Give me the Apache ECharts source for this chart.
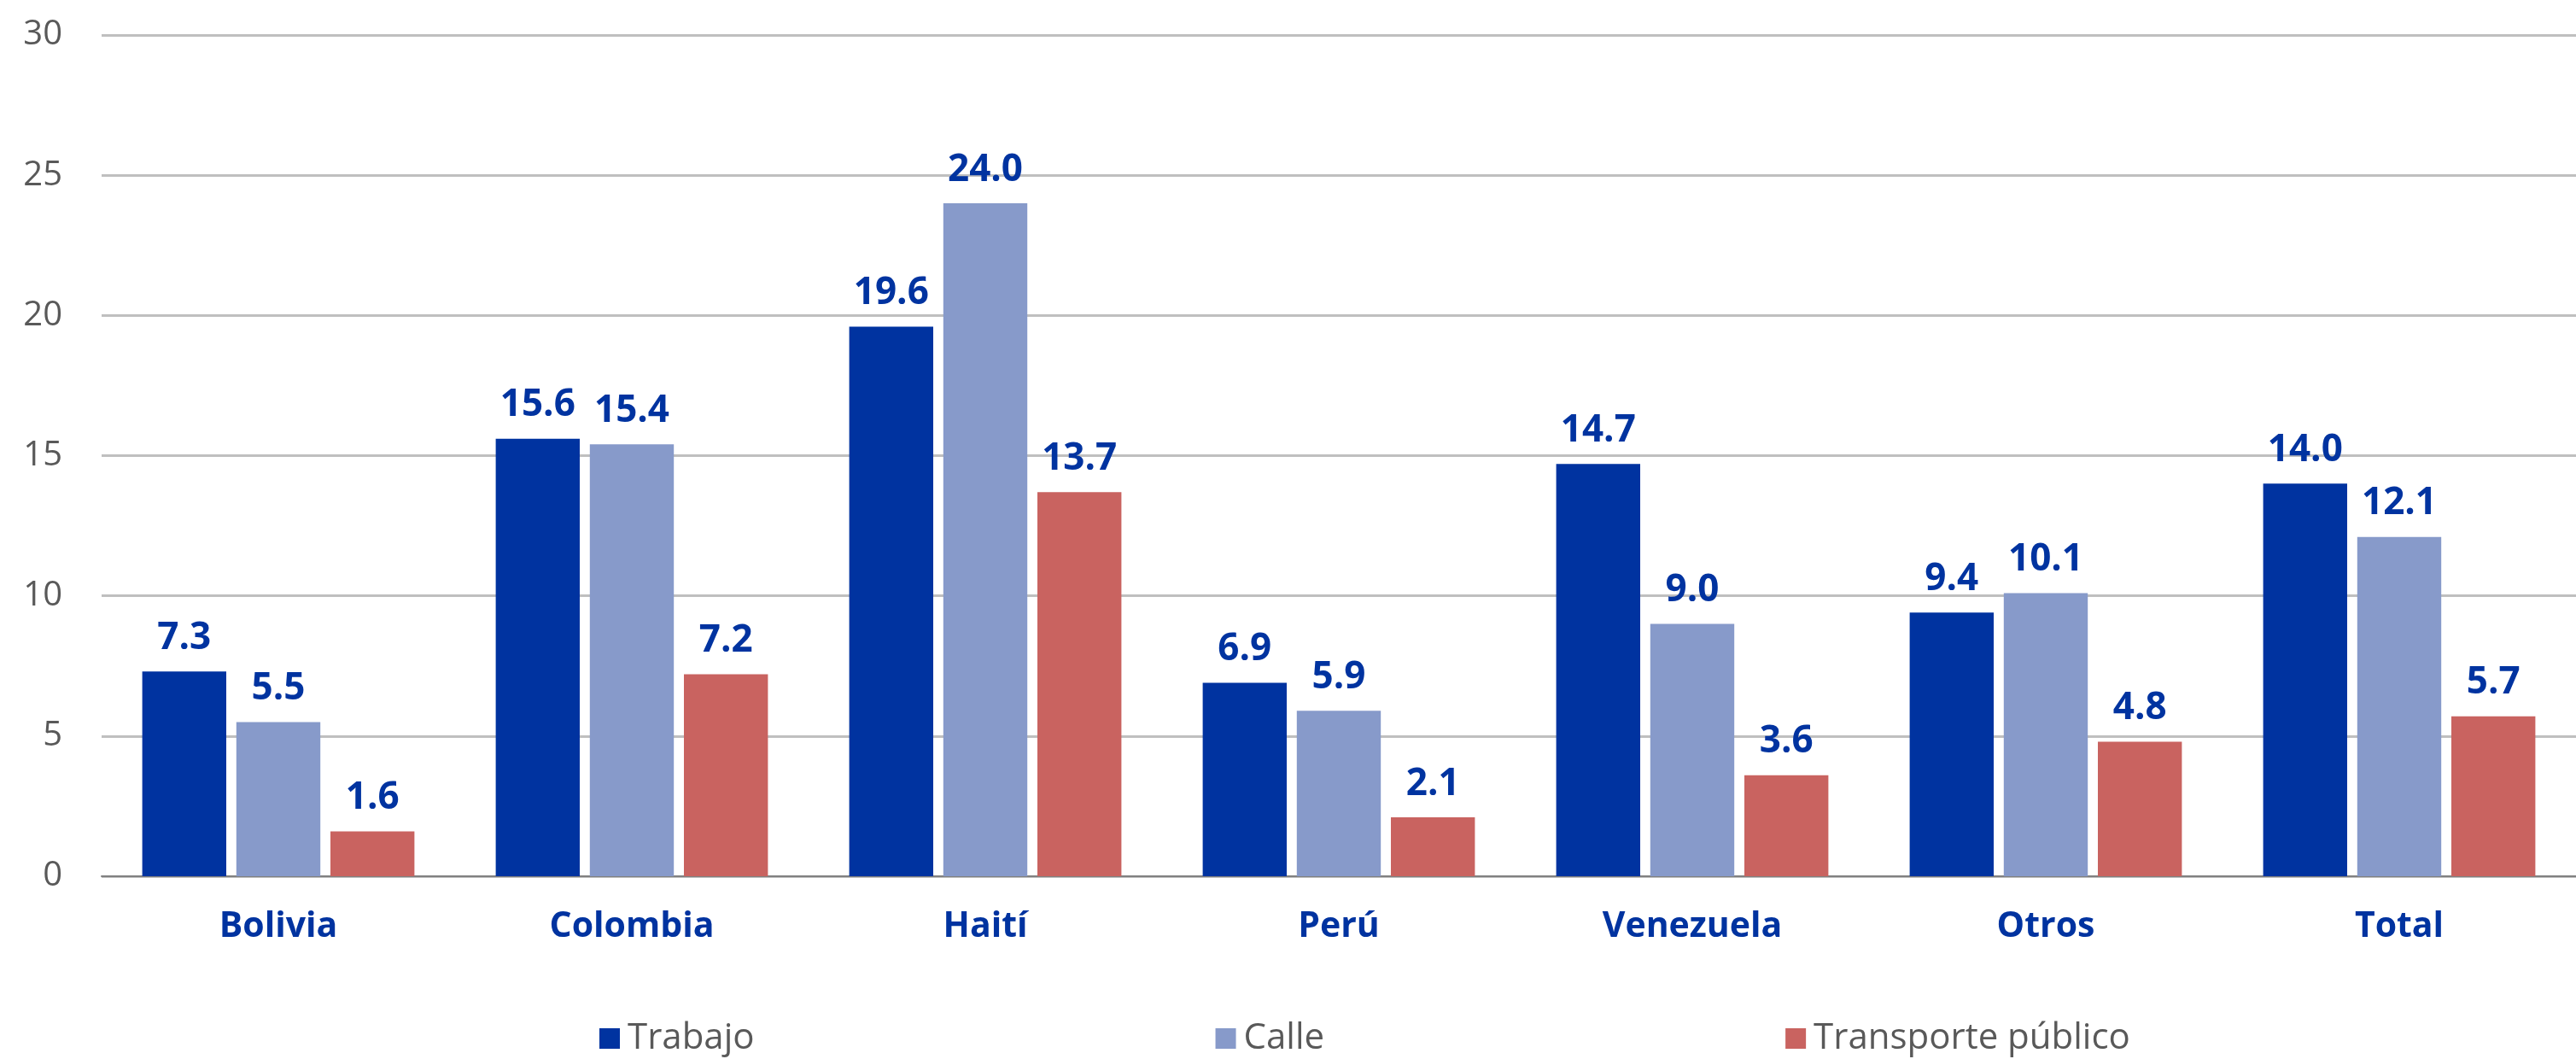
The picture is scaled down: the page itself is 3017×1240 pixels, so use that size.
<!DOCTYPE html>
<html>
<head>
<meta charset="utf-8">
<script src="https://cdn.jsdelivr.net/npm/echarts@6/dist/echarts.min.js"></script>
<style>
  html, body { margin: 0; padding: 0; background: #fff; }
  #chart { width: 3017px; height: 1240px; }
</style>
</head>
<body>
<div id="chart"></div>
<script>
// datos
const categorias = ['Bolivia', 'Colombia', 'Haití', 'Perú', 'Venezuela', 'Otros', 'Total'];
const trabajo = [7.3, 15.6, 19.6, 6.9, 14.7, 9.4, 14.0];
const calle = [5.5, 15.4, 24.0, 5.9, 9.0, 10.1, 12.1];
const transporte = [1.6, 7.2, 13.7, 2.1, 3.6, 4.8, 5.7];

const fuente = "'Open Sans', 'Noto Sans', sans-serif";

function serie(nombre, datos, color) {
  return {
    name: nombre,
    type: 'bar',
    data: datos,
    barGap: '12%',
    barCategoryGap: '23%',
    itemStyle: { color: color },
    label: {
      show: true,
      position: 'top',
      distance: 17,
      color: '#0033a0',
      fontFamily: fuente,
      fontWeight: 'bold',
      fontSize: 44,
      formatter: (p) => p.value.toFixed(1)
    }
  };
}

const myChart = echarts.init(document.getElementById('chart'));
myChart.setOption({
  animation: false,
  backgroundColor: '#ffffff',
  grid: {
    left: 119,
    right: 0,
    top: 41,
    bottom: 214,
    containLabel: false
  },
  legend: {
    bottom: -2,
    left: 697,
    itemGap: 540,
    itemWidth: 24,
    itemHeight: 24,
    icon: 'rect',
    textStyle: { color: '#595959', fontFamily: fuente, fontSize: 42, padding: [0, 0, 0, 4] },
    data: ['Trabajo', 'Calle', 'Transporte público']
  },
  xAxis: {
    type: 'category',
    data: categorias,
    axisTick: { show: false },
    axisLine: { lineStyle: { color: '#808080', width: 2 } },
    axisLabel: {
      color: '#0033a0',
      fontFamily: fuente,
      fontWeight: 'bold',
      fontSize: 41,
      margin: 39
    }
  },
  yAxis: {
    type: 'value',
    min: 0,
    max: 30,
    interval: 5,
    axisLine: { show: false },
    axisTick: { show: false },
    splitLine: { lineStyle: { color: '#bfbfbf', width: 3 } },
    axisLabel: {
      color: '#595959',
      fontFamily: fuente,
      fontSize: 40,
      margin: 46
    }
  },
  series: [
    serie('Trabajo', trabajo, '#0033a0'),
    serie('Calle', calle, '#879aca'),
    serie('Transporte público', transporte, '#c96360')
  ]
});
</script>
</body>
</html>
